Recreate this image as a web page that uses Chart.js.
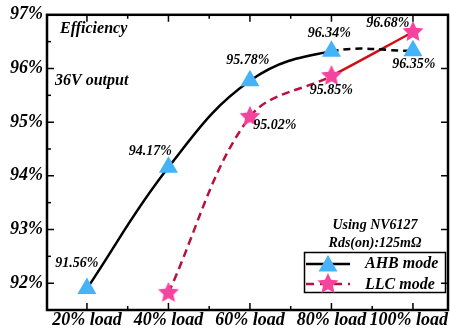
<!DOCTYPE html>
<html>
<head>
<meta charset="utf-8">
<script src="https://cdn.jsdelivr.net/npm/chart.js@4.4.0/dist/chart.umd.min.js"></script>
<style>
  html, body { margin: 0; padding: 0; background: #fff; overflow: hidden; }
  canvas { display: block; }
</style>
</head>
<body>
<canvas id="eff" width="450" height="332"></canvas>
<script>
// load points (%) and axis labels
var loads = [20, 40, 60, 80, 100];
var xTickLabels = ['20% load', '40% load', '60% load', '80% load', '100% load'];
var yTicks = [92, 93, 94, 95, 96, 97];

// efficiency (%) as plotted
var ahbEff = [91.9, 94.16, 95.77, 96.32, 96.33];
var llcEff = [null, 91.82, 95.1, 95.86, 96.68];

// value labels printed next to the points
var ahbText = ['91.56%', '94.17%', '95.78%', '96.34%', '96.35%'];
var llcText = [null, null, '95.02%', '95.85%', '96.68%'];

var FONT = '"Liberation Serif", "Times New Roman", serif';
var BLUE = '#45b3f7';
var PINK = '#f5449e';

// filled five point star used as marker
function makeStar(r, color) {
    var c = document.createElement('canvas');
    c.width = c.height = r * 2 + 2;
    var g = c.getContext('2d');
    var cx = r + 1, cy = r + 1;
    g.beginPath();
    for (var i = 0; i < 10; i++) {
        var rad = i % 2 === 0 ? r : r * 0.48;
        var a = -Math.PI / 2 + i * Math.PI / 5;
        var px = cx + Math.cos(a) * rad, py = cy + Math.sin(a) * rad;
        if (i === 0) g.moveTo(px, py); else g.lineTo(px, py);
    }
    g.closePath();
    g.fillStyle = color;
    g.fill();
    return c;
}
var star = makeStar(11, PINK);

function pts(vals) {
    return loads.map(function (x, i) { return { x: x, y: vals[i] }; });
}

function drawTri(ctx, x, y, r) {
    ctx.beginPath();
    ctx.moveTo(x, y - r);
    ctx.lineTo(x + r * 0.866, y + r * 0.5);
    ctx.lineTo(x - r * 0.866, y + r * 0.5);
    ctx.closePath();
    ctx.fillStyle = BLUE;
    ctx.fill();
}

// frame, inward ticks, x labels, annotations and legend
var decor = {
    id: 'decor',
    afterDraw: function (chart) {
        var ctx = chart.ctx, a = chart.chartArea;
        var xs = chart.scales.x, ys = chart.scales.y;
        ctx.save();

        ctx.strokeStyle = '#000';
        ctx.lineWidth = 1.5;
        for (var v = 30; v <= 90; v += 20) {
            var px = xs.getPixelForValue(v);
            ctx.beginPath();
            ctx.moveTo(px, a.bottom); ctx.lineTo(px, a.bottom - 4);
            ctx.moveTo(px, a.top); ctx.lineTo(px, a.top + 4);
            ctx.stroke();
        }
        loads.forEach(function (v) {
            var px = xs.getPixelForValue(v);
            ctx.beginPath();
            ctx.moveTo(px, a.bottom); ctx.lineTo(px, a.bottom - 7);
            ctx.moveTo(px, a.top); ctx.lineTo(px, a.top + 7);
            ctx.stroke();
        });
        yTicks.forEach(function (v) {
            var py = ys.getPixelForValue(v);
            ctx.beginPath();
            ctx.moveTo(a.left, py); ctx.lineTo(a.left + 7, py);
            ctx.moveTo(a.right, py); ctx.lineTo(a.right - 7, py);
            ctx.stroke();
            var pm = ys.getPixelForValue(v - 0.5);
            ctx.beginPath();
            ctx.moveTo(a.left, pm); ctx.lineTo(a.left + 4, pm);
            ctx.stroke();
        });
        ctx.lineWidth = 2.5;
        ctx.strokeRect(a.left, a.top, a.right - a.left, a.bottom - a.top);

        // x labels (last one kept inside the canvas)
        ctx.fillStyle = '#000';
        ctx.font = 'italic bold 18px ' + FONT;
        ctx.textBaseline = 'middle';
        ctx.textAlign = 'center';
        loads.forEach(function (v, i) {
            var px = xs.getPixelForValue(v);
            var w = ctx.measureText(xTickLabels[i]).width;
            if (px + w / 2 > chart.width - 2) px = chart.width - 2 - w / 2;
            ctx.fillText(xTickLabels[i], px, a.bottom + 10);
        });

        // value labels
        ctx.font = 'italic bold 14px ' + FONT;
        var ahbOff = [[-10, -25], [-18, -16], [-2, -20], [-2, -18], [1, 14]];
        var llcOff = [null, null, [25, 9], [0, 14], [-25, -9]];
        chart.getDatasetMeta(0).data.forEach(function (p, i) {
            if (ahbText[i]) ctx.fillText(ahbText[i], p.x + ahbOff[i][0], p.y + ahbOff[i][1]);
        });
        chart.getDatasetMeta(1).data.forEach(function (p, i) {
            if (llcText[i]) ctx.fillText(llcText[i], p.x + llcOff[i][0], p.y + llcOff[i][1]);
        });

        // notes
        ctx.font = 'italic bold 16px ' + FONT;
        ctx.textAlign = 'left';
        ctx.fillText('Efficiency', 60, 29);
        ctx.fillText('36V output', 55, 81);
        ctx.font = 'italic bold 14px ' + FONT;
        ctx.textAlign = 'center';
        ctx.fillText('Using NV6127', 375, 225);
        ctx.fillText('Rds(on):125m\u03a9', 375, 243);

        // legend box
        ctx.lineWidth = 1.5;
        ctx.strokeStyle = '#000';
        ctx.strokeRect(304.5, 252.5, 141, 40);
        ctx.lineWidth = 2.5;
        ctx.beginPath();
        ctx.moveTo(306, 264); ctx.lineTo(350, 264);
        ctx.stroke();
        drawTri(ctx, 328, 266, 11);
        ctx.strokeStyle = '#b8123c';
        ctx.setLineDash([8, 6]);
        ctx.beginPath();
        ctx.moveTo(306, 284); ctx.lineTo(350, 284);
        ctx.stroke();
        ctx.setLineDash([]);
        ctx.drawImage(star, 328 - star.width / 2, 284 - star.height / 2);
        ctx.font = 'italic bold 16px ' + FONT;
        ctx.textAlign = 'left';
        ctx.fillStyle = '#000';
        ctx.fillText('AHB mode', 365, 264);
        ctx.fillText('LLC mode', 365, 285);

        ctx.restore();
    }
};

new Chart(document.getElementById('eff'), {
    type: 'line',
    data: {
        datasets: [{
            label: 'AHB mode',
            data: pts(ahbEff),
            borderColor: '#000',
            borderWidth: 2.5,
            tension: 0.4,
            pointStyle: 'triangle',
            pointRadius: 11,
            pointBackgroundColor: BLUE,
            pointBorderColor: BLUE,
            pointBorderWidth: 0,
            segment: {
                borderDash: function (c) { return c.p0DataIndex === 3 ? [7, 5] : undefined; }
            }
        }, {
            label: 'LLC mode',
            data: pts(llcEff),
            borderColor: '#b8123c',
            borderWidth: 2.5,
            borderDash: [8, 5],
            tension: 0.35,
            pointStyle: star,
            pointRadius: 11,
            segment: {
                borderDash: function (c) { return c.p0DataIndex === 3 ? [] : undefined; },
                borderColor: function (c) { return c.p0DataIndex === 3 ? '#d10f14' : undefined; }
            }
        }]
    },
    options: {
        responsive: false,
        animation: false,
        layout: { autoPadding: false, padding: { top: 9, right: 2, left: 0, bottom: 0 } },
        plugins: { legend: { display: false }, tooltip: { enabled: false } },
        scales: {
            x: {
                type: 'linear',
                min: 10.2,
                max: 108.6,
                afterBuildTicks: function (s) { s.ticks = loads.map(function (v) { return { value: v }; }); },
                afterFit: function (s) { s.height = 22; },
                ticks: { display: false },
                grid: { display: false, drawTicks: false },
                border: { display: false }
            },
            y: {
                min: 91.5,
                max: 97,
                afterBuildTicks: function (s) { s.ticks = yTicks.map(function (v) { return { value: v }; }); },
                afterFit: function (s) { s.width = 47; },
                ticks: {
                    padding: 4,
                    color: '#000',
                    font: { family: FONT, size: 18, style: 'italic', weight: 'bold' },
                    callback: function (v) { return v + '%'; }
                },
                grid: { display: false, drawTicks: false },
                border: { display: false }
            }
        }
    },
    plugins: [decor]
});
</script>
</body>
</html>
